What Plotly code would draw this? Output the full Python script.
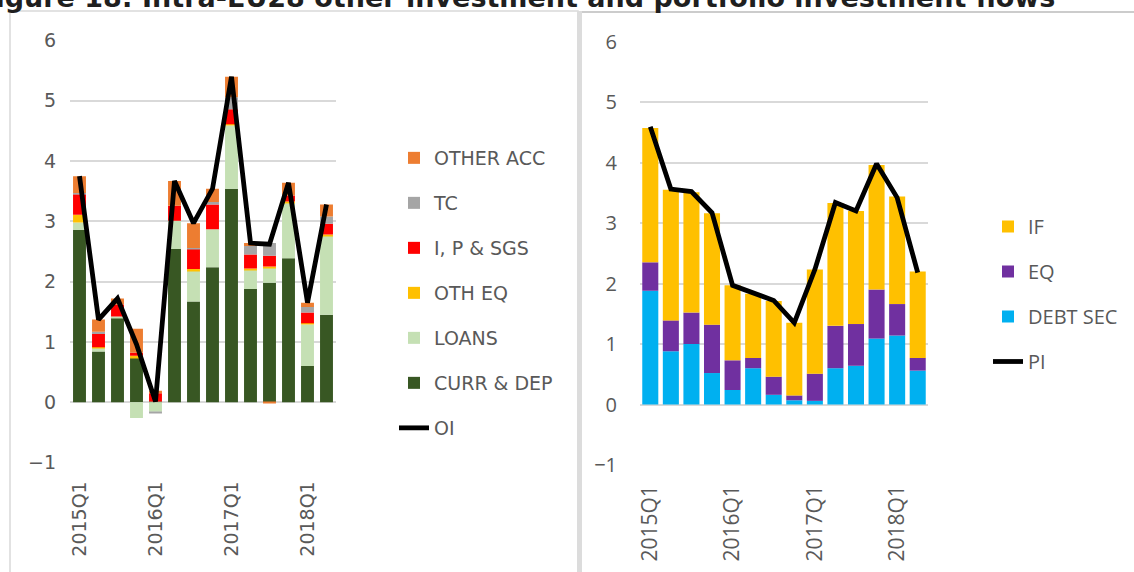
import plotly.graph_objects as go

# ---------------- data ----------------
quarters = ["2015Q1", "2015Q2", "2015Q3", "2015Q4", "2016Q1", "2016Q2", "2016Q3",
            "2016Q4", "2017Q1", "2017Q2", "2017Q3", "2017Q4", "2018Q1", "2018Q2"]
tick_quarters = ["2015Q1", "2016Q1", "2017Q1", "2018Q1"]

# Other investment components (left panel)
curr_dep = [2.86, 0.84, 1.40, 0.74, 0.01, 2.54, 1.67, 2.24, 3.54, 1.88, 1.98, 2.39, 0.60, 1.45]
loans = [0.12, 0.06, 0.02, -0.26, -0.16, 0.47, 0.51, 0.63, 1.05, 0.32, 0.25, 0.91, 0.69, 1.31]
oth_eq = [0.13, 0.01, 0.00, 0.03, 0.00, 0.00, 0.03, 0.00, 0.02, 0.02, 0.02, 0.03, 0.02, 0.02]
ips = [0.34, 0.22, 0.20, 0.05, 0.14, 0.25, 0.33, 0.41, 0.25, 0.23, 0.18, 0.10, 0.18, 0.18]
tc = [0.02, 0.04, 0.00, 0.00, -0.02, 0.00, 0.02, 0.04, 0.20, 0.14, 0.21, 0.00, 0.09, 0.12]
other_acc = [0.28, 0.20, 0.10, 0.40, 0.04, 0.41, 0.41, 0.22, 0.34, 0.05, -0.02, 0.21, 0.07, 0.20]
oi = [3.75, 1.37, 1.72, 0.96, 0.01, 3.67, 2.97, 3.54, 5.40, 2.64, 2.62, 3.64, 1.65, 3.28]

# Portfolio investment components (right panel)
debt_sec = [1.88, 0.88, 1.00, 0.52, 0.24, 0.60, 0.16, 0.07, 0.06, 0.60, 0.64, 1.09, 1.14, 0.56]
eq = [0.47, 0.51, 0.52, 0.80, 0.49, 0.17, 0.30, 0.08, 0.45, 0.70, 0.69, 0.81, 0.52, 0.21]
inv_funds = [2.22, 2.16, 1.99, 1.84, 1.24, 1.06, 1.25, 1.20, 1.72, 2.03, 1.87, 2.06, 1.78, 1.43]
pi = [4.59, 3.56, 3.52, 3.17, 1.97, 1.84, 1.72, 1.35, 2.23, 3.34, 3.20, 3.98, 3.42, 2.18]

title_text = "Figure 18: Intra-EU28 other investment and portfolio investment flows"

# ---------------- styling ----------------
W, H = 1134, 572
def px_x(p):
    return p / W
def px_y(p):
    return 1 - p / H

TXT = "#595959"
GRID = "#d9d9d9"
LEFT_FONT = "DejaVu Sans"
RIGHT_FONT = "Open Sans"

fig = go.Figure()

left_series = [
    ("CURR & DEP", curr_dep, "#385723", 6),
    ("LOANS", loans, "#c5e0b4", 5),
    ("OTH EQ", oth_eq, "#ffc000", 4),
    ("I, P & SGS", ips, "#ff0000", 3),
    ("TC", tc, "#a5a5a5", 2),
    ("OTHER ACC", other_acc, "#ed7d31", 1),
]
for name, vals, col, rank in left_series:
    fig.add_trace(go.Bar(
        x=quarters, y=vals, name=name, marker=dict(color=col, line=dict(width=0)),
        width=0.68, xaxis="x", yaxis="y", legend="legend",
        legendgroup=name, legendrank=rank,
    ))
fig.add_trace(go.Scatter(
    x=quarters, y=oi, name="OI", mode="lines",
    line=dict(color="black", width=4.8), xaxis="x", yaxis="y",
    legend="legend", legendgroup="OI", legendrank=7,
))

right_series = [
    ("DEBT SEC", debt_sec, "#00b0f0", 3),
    ("EQ", eq, "#7030a0", 2),
    ("IF", inv_funds, "#ffc000", 1),
]
for name, vals, col, rank in right_series:
    fig.add_trace(go.Bar(
        x=quarters, y=vals, name=name, marker=dict(color=col, line=dict(width=0)),
        width=0.78, xaxis="x2", yaxis="y2", legend="legend2",
        legendgroup=name + "_r", legendrank=rank,
    ))
fig.add_trace(go.Scatter(
    x=quarters, y=pi, name="PI", mode="lines",
    line=dict(color="black", width=4.8), xaxis="x2", yaxis="y2",
    legend="legend2", legendgroup="PI_r", legendrank=4,
))

common_y = dict(range=[-1, 6], dtick=1, tick0=0, showgrid=True, gridcolor=GRID,
                gridwidth=1.5, zeroline=False, showline=False, ticks="", automargin=False)
common_x = dict(type="category", range=[-0.5, 13.5], showgrid=False, zeroline=False,
                showline=False, tickangle=-90, tickvals=tick_quarters,
                ticktext=tick_quarters, ticks="", automargin=False)

fig.update_layout(
    width=W, height=H,
    margin=dict(l=0, r=0, t=0, b=0, autoexpand=False),
    paper_bgcolor="white", plot_bgcolor="white",
    barmode="relative",
    showlegend=True,
    xaxis=dict(common_x, domain=[px_x(70), px_x(336)], anchor="y",
               tickfont=dict(family=LEFT_FONT, size=19, color=TXT), ticklabelstandoff=14),
    yaxis=dict(common_y, domain=[px_y(462.5), px_y(40.5)], anchor="x",
               tickfont=dict(family=LEFT_FONT, size=19, color=TXT), ticklabelstandoff=13),
    xaxis2=dict(common_x, domain=[px_x(640), px_x(928)], anchor="y2",
                tickfont=dict(family=RIGHT_FONT, size=21, color=TXT), ticklabelstandoff=15),
    yaxis2=dict(common_y, domain=[px_y(465), px_y(41.5)], anchor="x2",
                tickfont=dict(family=RIGHT_FONT, size=20, color=TXT), ticklabelstandoff=22),
    legend=dict(x=px_x(394), y=px_y(139), xanchor="left", yanchor="top",
                font=dict(family=LEFT_FONT, size=19, color=TXT),
                tracegroupgap=17.3, traceorder="grouped", bgcolor="rgba(0,0,0,0)"),
    legend2=dict(x=px_x(988), y=px_y(207), xanchor="left", yanchor="top",
                 font=dict(family=RIGHT_FONT, size=20, color=TXT),
                 tracegroupgap=16, traceorder="grouped", bgcolor="rgba(0,0,0,0)"),
    annotations=[dict(
        text=title_text, xref="paper", yref="paper", x=px_x(1057), y=px_y(-2.5),
        xanchor="right", yanchor="middle", showarrow=False,
        font=dict(family="DejaVu Sans", size=27, color="#1f1f1f", weight="bold"),
    )],
    shapes=[
        dict(type="rect", xref="paper", yref="paper", x0=px_x(10), x1=px_x(578),
             y0=-0.1, y1=px_y(11), line=dict(color="#d9d9d9", width=1.5), layer="below"),
        dict(type="rect", xref="paper", yref="paper", x0=px_x(577), x1=px_x(582),
             y0=-0.1, y1=px_y(11), fillcolor="#dcdcdc", line=dict(width=0), layer="below"),
        dict(type="line", xref="paper", yref="paper", x0=px_x(582), x1=1.01,
             y0=px_y(12), y1=px_y(12), line=dict(color="#cccccc", width=2), layer="below"),
    ],
)

fig.write_html("out.html", config={"displayModeBar": False},
               post_script="document.body.style.margin='0';")
